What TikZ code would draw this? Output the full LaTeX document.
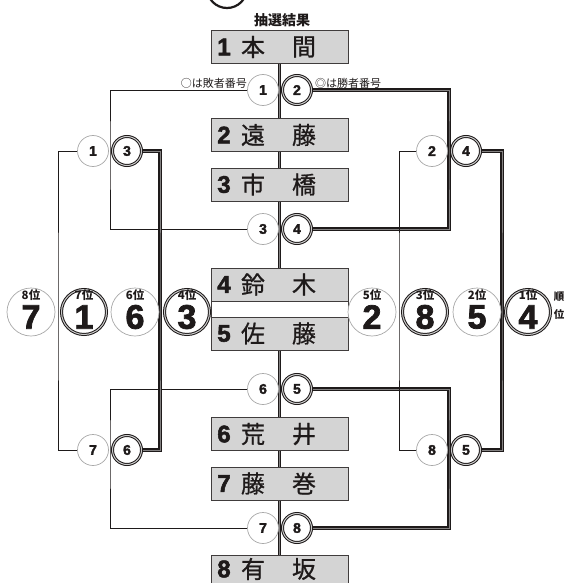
\documentclass[tikz,border=0pt]{standalone}
\usepackage{fontspec}
\setmainfont{Liberation Sans}
\newfontfamily\jp{Noto Sans CJK JP}
\newfontfamily\brush{Noto Sans CJK JP}[FakeBold=0.8]
\newfontfamily\heavy{Liberation Sans Bold}[FakeBold=2.2]
\usetikzlibrary{calc}
\definecolor{ink}{HTML}{1E1A1A}
\definecolor{boxgray}{HTML}{D4D4D4}
\definecolor{ringgray}{HTML}{A8A8A8}
\pgfdeclarelayer{paper}
\pgfdeclarelayer{wires}
\pgfsetlayers{paper,wires,main}
\tikzset{
  namebox/.style={draw=ink!85, line width=0.8pt, fill=boxgray, minimum width=137pt,
    minimum height=33pt, inner sep=0pt},
  namenum/.style={font=\heavy\fontsize{24}{24}\selectfont, text=ink, inner sep=0pt},
  namechar/.style={font=\brush\fontsize{24}{24}\selectfont, text=ink, inner sep=0pt},
  wincirc/.style={circle, fill=white, draw=ink, line width=1pt, double=ringgray!60,
    double distance=1pt, minimum size=29pt, inner sep=0pt, text=ink,
    font=\heavy\fontsize{14}{14}\selectfont},
  losecirc/.style={circle, fill=white, draw=ringgray, line width=0.7pt, minimum size=31pt,
    inner sep=0pt, text=ink, font=\heavy\fontsize{14}{14}\selectfont},
  rankwin/.style={circle, fill=white, draw=ink, line width=1pt, double=ringgray!60,
    double distance=1pt, minimum size=45pt, inner sep=0pt},
  ranklose/.style={circle, fill=white, draw=ringgray, line width=0.7pt, minimum size=48pt,
    inner sep=0pt},
  rankdigit/.style={font=\heavy\fontsize{34}{34}\selectfont, text=ink, inner sep=0pt, yshift=-5pt},
  ranklab/.style={font=\jp\bfseries\fontsize{11.5}{11.5}\selectfont, text=ink, inner sep=0pt, yshift=17pt},
  note/.style={font=\jp\fontsize{11}{11}\selectfont, text=ink, inner sep=0pt},
  wline/.style={draw=ink, line width=1.2pt, double=ink!55, double distance=0.8pt},
  lline/.style={draw=ink, line width=0.9pt},
}
% one entrant's name plate: #1 node name, #2 plate centre y, #3 text centre y,
% #4 draw number, #5 #6 family name
\newcommand\plate[6]{%
  \node[namebox] (#1) at (279.5,#2) {};
  \node[namenum]  at (224,#3) {#4};
  \node[namechar] at (253,#3) {#5};
  \node[namechar] at (304,#3) {#6};
}
% final placing: #1 name, #2 x, #3 style, #4 place label, #5 entrant
\newcommand\placing[5]{%
  \node[#3] (#1) at (#2,312) {};
  \node[ranklab] at (#2,312) {#4};
  \node[rankdigit] at (#2,312) {#5};
}
\begin{document}
\begin{tikzpicture}[x=1pt,y=-1pt]
\useasboundingbox (0,0) rectangle (568,583);
\begin{pgfonlayer}{paper}
  \fill[white] (0,0) rectangle (568,583);
\end{pgfonlayer}
\clip (0,0) rectangle (568,583);

% ring peeking in at the top edge
\draw[ink, line width=2.2pt] (227,-12) circle[radius=20];

\node[font=\jp\bfseries\fontsize{14}{14}\selectfont, text=ink, inner sep=0pt] (title) at (282,20) {抽選結果};

% name plates
\plate{b1}{47}{47}{1}{本}{間}
\plate{b2}{135}{135}{2}{遠}{藤}
\plate{b3}{184.5}{184.5}{3}{市}{橋}
\node[draw=ink!85, line width=0.8pt, fill=white, minimum width=137pt, minimum height=82pt,
  inner sep=0pt] (b45) at (279.5,309) {};
\plate{b4}{284.5}{284.5}{4}{鈴}{木}
\plate{b5}{333.5}{333.5}{5}{佐}{藤}
\plate{b6}{434}{434}{6}{荒}{井}
\plate{b7}{483.5}{483.5}{7}{藤}{巻}
\plate{b8}{571.5}{569}{8}{有}{坂}

% first-round bouts on the centre line
\node[losecirc] (m1L) at (263,90) {1};
\node[wincirc]  (m1W) at (297,90) {2};
\node[losecirc] (m2L) at (263,229) {3};
\node[wincirc]  (m2W) at (297,229) {4};
\node[losecirc] (m3L) at (263,389) {6};
\node[wincirc]  (m3W) at (297,389) {5};
\node[losecirc] (m4L) at (263,528) {7};
\node[wincirc]  (m4W) at (297,528) {8};

\node[note, anchor=east] (nlose) at (247,83) {○は敗者番号};
\node[note, anchor=west] (nwin)  at (315,83) {◎は勝者番号};

% second-round bouts
\node[losecirc] (l1L) at (93,151) {1};
\node[wincirc]  (l1W) at (127,151) {3};
\node[losecirc] (l2L) at (93,450) {7};
\node[wincirc]  (l2W) at (127,450) {6};
\node[losecirc] (w1L) at (432,151) {2};
\node[wincirc]  (w1W) at (466,151) {4};
\node[losecirc] (w2L) at (432,450) {8};
\node[wincirc]  (w2W) at (466,450) {5};

% final placings
\placing{p8}{31}{ranklose}{8位}{7}
\placing{p7}{84}{rankwin}{7位}{1}
\placing{p6}{135}{ranklose}{6位}{6}
\placing{p4}{187}{rankwin}{4位}{3}
\placing{p5}{372}{ranklose}{5位}{2}
\placing{p3}{425}{rankwin}{3位}{8}
\placing{p2}{477}{ranklose}{2位}{5}
\placing{p1}{528}{rankwin}{1位}{4}
\node[font=\jp\bfseries\fontsize{10.5}{10.5}\selectfont, text=ink, inner sep=0pt] (jun) at (559,297) {順};
\node[font=\jp\bfseries\fontsize{10.5}{10.5}\selectfont, text=ink, inner sep=0pt] (i) at (559,315) {位};

% junction points of the bracket
\coordinate (jA) at (110,151);
\coordinate (jB) at (110,450);
\coordinate (jC) at (58,312);
\coordinate (jD) at (160,312);
\coordinate (jE) at (449,151);
\coordinate (jF) at (449,450);
\coordinate (jG) at (502,312);
\coordinate (jH) at (399,312);

\begin{pgfonlayer}{wires}
  \draw[wline, line width=1.4pt] (b1.south) -- (b8.north);
  % losers' side
  \draw[lline] (m1L) -| (jA) |- (m2L);
  \draw[lline] (m3L) -| (jB) |- (m4L);
  \draw[lline] (l1L) -| (jC) |- (l2L);
  \draw[wline] (l1W) -| (jD) |- (l2W);
  % winners' side
  \draw[wline] (m1W) -| (jE) |- (m2W);
  \draw[wline] (m3W) -| (jF) |- (m4W);
  \draw[lline] (w1L) -| (jH) |- (w2L);
  \draw[wline] (w1W) -| (jG) |- (w2W);
\end{pgfonlayer}
\end{tikzpicture}
\end{document}
